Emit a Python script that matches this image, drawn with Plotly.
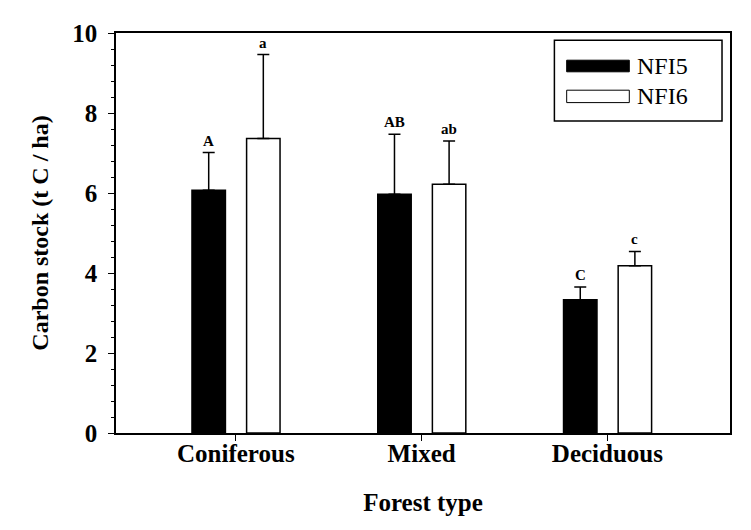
import plotly.graph_objects as go

categories = ["Coniferous", "Mixed", "Deciduous"]
nfi5 = [6.07, 5.97, 3.33]
nfi5_err = [0.94, 1.50, 0.32]
nfi6 = [7.36, 6.22, 4.18]
nfi6_err = [2.10, 1.08, 0.36]
nfi5_letters = ["A", "AB", "C"]
nfi6_letters = ["a", "ab", "c"]
series_names = ["NFI5", "NFI6"]

FONT = "Liberation Serif"
BAR_W = 0.18
OFF5, OFF6 = -0.236, 0.058

fig = go.Figure()
fig.add_trace(go.Bar(
    x=categories, y=nfi5, name=series_names[0], width=BAR_W, offset=OFF5,
    marker=dict(color="black", line=dict(color="black", width=1.5)),
    error_y=dict(type="data", symmetric=False, array=nfi5_err, arrayminus=[0] * 3,
                 color="black", thickness=1.5, width=6),
    showlegend=False,
))
fig.add_trace(go.Bar(
    x=categories, y=nfi6, name=series_names[1], width=BAR_W, offset=OFF6,
    marker=dict(color="white", line=dict(color="black", width=1.5)),
    error_y=dict(type="data", symmetric=False, array=nfi6_err, arrayminus=[0] * 3,
                 color="black", thickness=1.5, width=6),
    showlegend=False,
))

# significance letters
for i, c in enumerate(categories):
    for vals, errs, letters, off in ((nfi5, nfi5_err, nfi5_letters, OFF5),
                                     (nfi6, nfi6_err, nfi6_letters, OFF6)):
        fig.add_annotation(
            x=i + off + BAR_W / 2, y=vals[i] + errs[i], xref="x", yref="y",
            text=f"<b>{letters[i]}</b>", showarrow=False, yanchor="bottom", yshift=2,
            font=dict(family=FONT, size=15, color="black"),
        )

# custom legend (wide swatches like the original)
fig.add_shape(type="rect", xref="paper", yref="paper", x0=0.714, x1=0.987, y0=0.78, y1=0.982,
              line=dict(color="black", width=1.5), fillcolor="white", layer="above")
fig.add_shape(type="rect", xref="paper", yref="paper", x0=0.734, x1=0.836, y0=0.903, y1=0.932,
              line=dict(color="black", width=1), fillcolor="black", layer="above")
fig.add_shape(type="rect", xref="paper", yref="paper", x0=0.734, x1=0.836, y0=0.826, y1=0.857,
              line=dict(color="black", width=1), fillcolor="white", layer="above")
for name, yc in zip(series_names, (0.917, 0.842)):
    fig.add_annotation(x=0.846, y=yc, xref="paper", yref="paper", text=name, showarrow=False,
                       xanchor="left", yanchor="middle",
                       font=dict(family=FONT, size=24, color="black"))

fig.update_layout(
    width=743, height=522,
    margin=dict(l=108, r=21, t=25, b=97),
    paper_bgcolor="white", plot_bgcolor="white",
    barmode="group",
    font=dict(family=FONT, color="black"),
    xaxis=dict(
        range=[-0.645, 2.66], showline=True, linecolor="black", linewidth=1.5, mirror=True,
        ticks="outside", ticklen=6, tickcolor="black", showgrid=False,
        ticklabelstandoff=-9,
        tickfont=dict(family=FONT, size=25, color="black"),
        title=dict(text="<b>Forest type</b>", font=dict(family=FONT, size=25, color="black"),
                   standoff=28),
        tickprefix="<b>", ticksuffix="</b>",
    ),
    yaxis=dict(
        range=[0, 10], dtick=2, showline=True, linecolor="black", linewidth=1.5, mirror=True,
        ticks="outside", ticklen=6, tickcolor="black", showgrid=False, zeroline=False,
        ticklabelstandoff=6,
        tickfont=dict(family=FONT, size=25, color="black"),
        tickprefix="<b>", ticksuffix="</b>",
        minor=dict(dtick=0.4, ticks="outside", ticklen=3, tickcolor="black", showgrid=False),
        title=dict(text="<b>Carbon stock (t C / ha)</b>", font=dict(family=FONT, size=24, color="black"),
                   standoff=17),
    ),
)

fig.write_html("out.html")
